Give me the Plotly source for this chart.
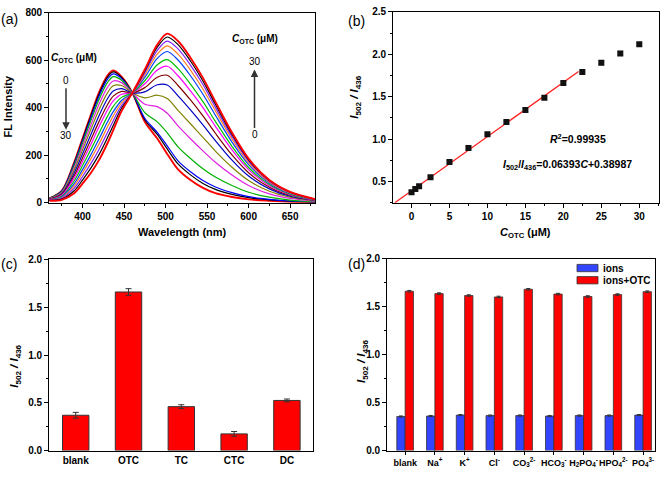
import plotly.graph_objects as go

# ---------------- Panel (a): emission spectra ----------------
wavelength = [360, 375, 390, 400, 410, 420, 430, 437, 447, 460, 475, 490, 502,
              515, 530, 545, 560, 580, 600, 625, 650, 680]
spectra = [
    [18, 50, 170, 270, 370, 465, 535, 556, 530, 462, 340, 270, 205, 140, 95, 62, 40, 24, 14, 8, 4, 2],
    [18, 49, 167, 265, 364, 458, 528, 550, 527, 462, 349, 287, 226, 163, 117, 81, 56, 35, 21, 12, 6, 3],
    [17, 48, 163, 259, 356, 449, 519, 542, 522, 462, 355, 296, 239, 176, 130, 93, 66, 42, 25, 14, 7, 3],
    [17, 46, 156, 250, 345, 435, 505, 530, 515, 462, 379, 340, 294, 235, 186, 143, 108, 72, 44, 23, 11, 4],
    [16, 43, 147, 237, 327, 415, 485, 512, 505, 462, 414, 404, 376, 323, 269, 218, 170, 116, 72, 37, 18, 6],
    [15, 40, 137, 222, 308, 392, 462, 492, 493, 462, 441, 452, 438, 388, 332, 275, 217, 149, 93, 48, 23, 8],
    [15, 37, 125, 205, 286, 367, 437, 470, 480, 462, 466, 496, 495, 449, 390, 327, 261, 179, 112, 58, 27, 9],
    [14, 34, 114, 188, 265, 342, 412, 448, 468, 462, 484, 528, 536, 493, 432, 365, 292, 201, 126, 65, 31, 11],
    [13, 31, 104, 173, 245, 320, 390, 428, 456, 462, 500, 558, 574, 534, 470, 400, 321, 222, 139, 71, 34, 11],
    [12, 27, 92, 156, 223, 293, 363, 405, 443, 462, 513, 580, 602, 564, 499, 425, 342, 237, 148, 76, 36, 12],
    [11, 24, 80, 139, 201, 269, 339, 383, 430, 462, 527, 607, 636, 600, 534, 456, 368, 255, 160, 82, 39, 13],
    [10, 21, 71, 125, 184, 248, 318, 365, 420, 462, 538, 625, 660, 625, 558, 478, 386, 268, 168, 86, 41, 14],
    [10, 18, 61, 110, 164, 225, 295, 345, 408, 462, 547, 641, 680, 647, 579, 497, 401, 278, 175, 90, 43, 14],
    [9, 15, 50, 95, 145, 203, 273, 325, 397, 462, 554, 654, 697, 665, 596, 512, 414, 287, 180, 93, 44, 15],
    [8, 12, 40, 80, 125, 180, 250, 305, 385, 462, 560, 665, 711, 680, 610, 525, 425, 295, 185, 95, 45, 15],
]
spectra_colors = ["#FF0000", "#000000", "#0000FF", "#00B000", "#E020E0", "#808000",
                  "#0000C0", "#800000", "#FF00FF", "#00C000", "#0040FF", "#FF8020",
                  "#8020FF", "#000000", "#FF0000"]

# ---------------- Panel (b): calibration ----------------
conc = [0, 0.5, 1, 2.5, 5, 7.5, 10, 12.5, 15, 17.5, 20, 22.5, 25, 27.5, 30]
ratio = [0.374, 0.412, 0.443, 0.55, 0.73, 0.895, 1.056, 1.20, 1.343, 1.488,
         1.66, 1.79, 1.90, 2.01, 2.117]
ratio_err = [0.02, 0.02, 0.02, 0.015, 0.015, 0.015, 0.02, 0.015, 0.02, 0.02,
             0.02, 0.015, 0.025, 0.025, 0.02]
fit_slope = 0.06393
fit_intercept = 0.38987
fit_x = [-2.2, 22.0]

# ---------------- Panel (c): selectivity ----------------
antibiotics = ["blank", "OTC", "TC", "CTC", "DC"]
antibiotic_ratio = [0.37, 1.66, 0.46, 0.175, 0.525]
antibiotic_err = [0.03, 0.035, 0.02, 0.025, 0.015]

# ---------------- Panel (d): ion interference ----------------
ion_labels = ["blank", "Na<sup>+</sup>", "K<sup>+</sup>", "Cl<sup>-</sup>",
              "CO<sub>3</sub><sup>2-</sup>", "HCO<sub>3</sub><sup>-</sup>",
              "H<sub>2</sub>PO<sub>4</sub><sup>-</sup>", "HPO<sub>4</sub><sup>2-</sup>",
              "PO<sub>4</sub><sup>3-</sup>"]
ions_only = [0.355, 0.36, 0.37, 0.365, 0.365, 0.36, 0.365, 0.365, 0.37]
ions_otc = [1.66, 1.635, 1.615, 1.60, 1.68, 1.63, 1.605, 1.625, 1.655]
ions_only_err = [0.006] * 9
ions_otc_err = [0.008] * 9

W_PX, H_PX = 661, 481
FONT = "Liberation Sans, Arial, sans-serif"


def px(x, y):
    return x / W_PX, 1 - y / H_PX


fig = go.Figure()

for i, ys in enumerate(spectra):
    outer = i in (0, len(spectra) - 1)
    fig.add_trace(go.Scatter(
        x=wavelength, y=ys, mode="lines", xaxis="x", yaxis="y",
        line=dict(color=spectra_colors[i], width=1.9 if outer else 1.2,
                  shape="spline", smoothing=0.9),
        showlegend=False, hoverinfo="skip"))

fit_y = [fit_slope * v + fit_intercept for v in fit_x]
fig.add_trace(go.Scatter(x=fit_x, y=fit_y, mode="lines", xaxis="x2", yaxis="y2",
                         line=dict(color="#FF2020", width=1.3), showlegend=False))
fig.add_trace(go.Scatter(
    x=conc, y=ratio, mode="markers", xaxis="x2", yaxis="y2",
    marker=dict(symbol="square", size=6, color="#111111"),
    error_y=dict(type="data", array=ratio_err, color="#AAAAAA", thickness=1, width=3),
    showlegend=False))

fig.add_trace(go.Bar(
    x=antibiotics, y=antibiotic_ratio, xaxis="x3", yaxis="y3", width=0.5,
    marker=dict(color="#FF0000", line=dict(color="#333333", width=1)),
    error_y=dict(type="data", array=antibiotic_err, color="#333333", thickness=1, width=3),
    showlegend=False))

fig.add_trace(go.Bar(
    x=ion_labels, y=ions_only, xaxis="x4", yaxis="y4", width=0.28, offset=-0.28,
    marker=dict(color="#3344FF", line=dict(color="#333333", width=0.8)),
    error_y=dict(type="data", array=ions_only_err, color="#333333", thickness=1, width=2),
    showlegend=False))
fig.add_trace(go.Bar(
    x=ion_labels, y=ions_otc, xaxis="x4", yaxis="y4", width=0.28, offset=0,
    marker=dict(color="#FF0000", line=dict(color="#333333", width=0.8)),
    error_y=dict(type="data", array=ions_otc_err, color="#333333", thickness=1, width=2),
    showlegend=False))

tickfont = dict(family=FONT, size=10, color="black", weight="bold")
base = dict(showline=True, linecolor="black", linewidth=1.3, mirror=True,
            ticks="outside", ticklen=4, tickwidth=1, tickcolor="black",
            tickfont=tickfont, showgrid=False, zeroline=False, fixedrange=True)


def ax(**kw):
    d = dict(base)
    d.update(kw)
    return d


fig.update_layout(
    width=W_PX, height=H_PX, autosize=False,
    margin=dict(l=0, r=0, t=0, b=0),
    paper_bgcolor="white", plot_bgcolor="white",
    font=dict(family=FONT, color="black"),
    barmode="overlay",
    showlegend=False,
    xaxis=ax(domain=[0.0746, 0.4766], anchor="y", range=[360, 680], dtick=50,
             minor=dict(dtick=25, ticklen=2, ticks="outside", tickcolor="black")),
    yaxis=ax(domain=[0.5807, 0.9861], anchor="x", range=[0, 800], dtick=200,
             minor=dict(dtick=100, ticklen=2, ticks="outside", tickcolor="black")),
    xaxis2=ax(domain=[0.5950, 0.9970], anchor="y2", range=[-2.4, 32.6], dtick=5,
              minor=dict(dtick=2.5, ticklen=2, ticks="outside", tickcolor="black")),
    yaxis2=ax(domain=[0.5807, 0.9875], anchor="x2", range=[0.25, 2.5], dtick=0.5,
              tickformat=".1f",
              minor=dict(dtick=0.25, ticklen=2, ticks="outside", tickcolor="black")),
    xaxis3=ax(domain=[0.0746, 0.4740], anchor="y3", range=[-0.5, 4.5], ticks="",
              tickfont=dict(family=FONT, size=10, color="black", weight="bold")),
    yaxis3=ax(domain=[0.0520, 0.4595], anchor="x3", range=[0, 2.0], dtick=0.5,
              tickformat=".1f",
              minor=dict(dtick=0.25, ticklen=2, ticks="outside", tickcolor="black")),
    xaxis4=ax(domain=[0.5859, 0.9909], anchor="y4", range=[-0.6, 8.4], ticklen=3,
              tickangle=0,
              tickfont=dict(family=FONT, size=9, color="black", weight="bold")),
    yaxis4=ax(domain=[0.0520, 0.4615], anchor="x4", range=[0, 2.0], dtick=0.5,
              tickformat=".1f",
              minor=dict(dtick=0.25, ticklen=2, ticks="outside", tickcolor="black")),
)

annotations = []


def note(x, y, text, size=10, angle=0, xanchor="center"):
    xx, yy = px(x, y)
    annotations.append(dict(x=xx, y=yy, xref="paper", yref="paper", text=text,
                            showarrow=False, textangle=angle, xanchor=xanchor,
                            yanchor="middle",
                            font=dict(family=FONT, size=size, color="black")))


# panel labels
note(9, 13, "(a)", 14)
note(357, 15, "(b)", 14)
note(9, 265, "(c)", 14)
note(357, 265, "(d)", 14)

ratio_title = ("<b><i>I</i></b><sub><b>502</b></sub><b><i> / I</i></b>"
               "<sub><b>436</b></sub>")
conc_title = "<b><i>C</i></b><sub><b>OTC</b></sub><b> (μM)</b>"

note(8, 103, "<b>FL Intensity</b>", 11, -90)
note(182, 232, "<b>Wavelength (nm)</b>", 11)
note(355, 94, ratio_title, 11.5, -90)
note(525, 233, conc_title, 11)
note(15, 370, ratio_title, 11.5, -90)
note(362, 365, ratio_title, 11.5, -90)

# panel (b) equation text
note(578, 136, "<b><i>R</i><sup>2</sup>=0.99935</b>", 10.5)
note(567, 163, "<b><i>I</i></b><sub><b>502</b></sub><b>/<i>I</i></b><sub><b>436</b></sub>"
     "<b>=0.06393<i>C</i>+0.38987</b>", 10.5)

# panel (a) concentration annotations
note(74, 53, conc_title, 10)
note(66, 76, "0", 10)
note(66, 133, "30", 10)
note(254.5, 34, conc_title, 10)
note(254.5, 57, "30", 10)
note(254.5, 132, "0", 10)

for hx, hy, dy in [(66, 127, -43), (254.5, 65, 60)]:
    xx, yy = px(hx, hy)
    annotations.append(dict(x=xx, y=yy, xref="paper", yref="paper", text="",
                            showarrow=True, ax=0, ay=dy, arrowhead=2, arrowsize=1,
                            arrowwidth=1.5, arrowcolor="#333333"))

# panel (d) custom legend
legend_items = [("ions", "#3344FF", 265, 272.5), ("ions+OTC", "#FF0000", 277.5, 285)]
shapes = []
for label, color, y0, y1 in legend_items:
    x0p, y0p = px(577, y0)
    x1p, y1p = px(598, y1)
    shapes.append(dict(type="rect", xref="paper", yref="paper", x0=x0p, x1=x1p,
                       y0=y1p, y1=y0p, fillcolor=color,
                       line=dict(color="#333333", width=0.8)))
    note(601, (y0 + y1) / 2, "<b>%s</b>" % label, 10, xanchor="left")

fig.update_layout(annotations=annotations, shapes=shapes)

fig.write_html("out.html")
